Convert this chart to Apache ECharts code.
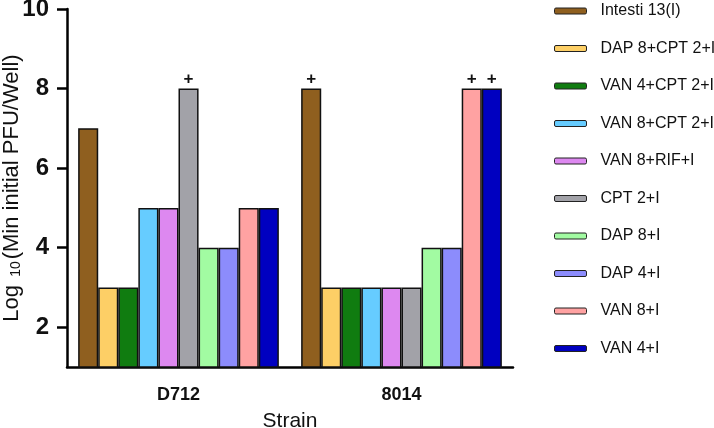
<!DOCTYPE html>
<html>
<head>
<meta charset="utf-8">
<script src="https://cdn.jsdelivr.net/npm/echarts@6/dist/echarts.min.js"></script>
<style>html,body{margin:0;padding:0;background:#fff}#c{width:714px;height:428px}</style>
</head>
<body>
<div id="c"></div>
<script>
const strains = ['D712', '8014'];
const seriesNames = ['Intesti 13(I)', 'DAP 8+CPT 2+I', 'VAN 4+CPT 2+I', 'VAN 8+CPT 2+I', 'VAN 8+RIF+I', 'CPT 2+I', 'DAP 8+I', 'DAP 4+I', 'VAN 8+I', 'VAN 4+I'];
const colors = ['#8f5f1f', '#fdcf66', '#107c10', '#66ccff', '#dd88f0', '#a2a2a8', '#a2fba2', '#8c8cfc', '#ffa2a2', '#0000c0'];
const valuesD712 = [7, 3, 3, 5, 5, 8, 4, 4, 5, 5];
const values8014 = [8, 3, 3, 3, 3, 3, 4, 4, 8, 8];
const plusD712 = [false, false, false, false, false, true, false, false, false, false];
const plus8014 = [true, false, false, false, false, false, false, false, true, true];
const yTicks = [2, 4, 6, 8, 10];

const font = '"Liberation Sans", Arial, sans-serif';
const series = seriesNames.map((name, i) => ({
  name,
  type: 'bar',
  barGap: '0%',
  barCategoryGap: '10%',
  itemStyle: { color: colors[i], borderColor: '#111', borderWidth: 1.5 },
  data: [
    { value: valuesD712[i], label: { show: plusD712[i] } },
    { value: values8014[i], label: { show: plus8014[i] } }
  ],
  label: {
    show: false, position: 'top', formatter: '+', distance: 1,
    color: '#111', fontSize: 17, fontWeight: 'bold', fontFamily: font
  }
}));

const chart = echarts.init(document.getElementById('c'));
chart.setOption({
  animation: false,
  grid: { left: 67, right: 201, top: 9, bottom: 61, containLabel: false, outerBoundsMode: 'none' },
  legend: {
    orient: 'vertical', left: 549, top: -2,
    itemWidth: 32, itemHeight: 6, itemGap: 21.5,
    itemStyle: { borderColor: '#222', borderWidth: 1 },
    textStyle: { fontSize: 16, fontFamily: font, color: '#111', padding: [0, 0, 0, 9] },
    data: seriesNames
  },
  xAxis: {
    type: 'category', data: strains,
    name: 'Strain', nameLocation: 'middle', nameGap: 44, nameMoveOverlap: false,
    nameTextStyle: { fontSize: 21, fontFamily: font, color: '#111' },
    axisLine: { lineStyle: { color: '#000', width: 2.5 } },
    axisTick: { alignWithLabel: true, length: 10, lineStyle: { color: '#000', width: 2.5 } },
    axisLabel: { fontSize: 18, fontWeight: 'bold', fontFamily: font, color: '#111', margin: 19 }
  },
  yAxis: {
    type: 'value', min: 1, max: 10, interval: 1,
    name: '{a|Log }{s|10}{a|(Min initial PFU/Well)}',
    nameLocation: 'middle', nameGap: 44, nameRotate: 90, nameMoveOverlap: false,
    nameTextStyle: {
      fontFamily: font, color: '#111',
      rich: {
        a: { fontSize: 22, fontFamily: font, color: '#111' },
        s: { fontSize: 14, fontFamily: font, color: '#111', padding: [8, 2, 0, 2] }
      }
    },
    splitLine: { show: false },
    axisLine: { show: true, lineStyle: { color: '#000', width: 2.5 } },
    axisTick: { show: true, length: 10, customValues: yTicks, lineStyle: { color: '#000', width: 2.5 } },
    axisLabel: { customValues: yTicks, fontSize: 24, fontWeight: 'bold', fontFamily: font, color: '#111', margin: 18 }
  },
  series
});
</script>
</body>
</html>
